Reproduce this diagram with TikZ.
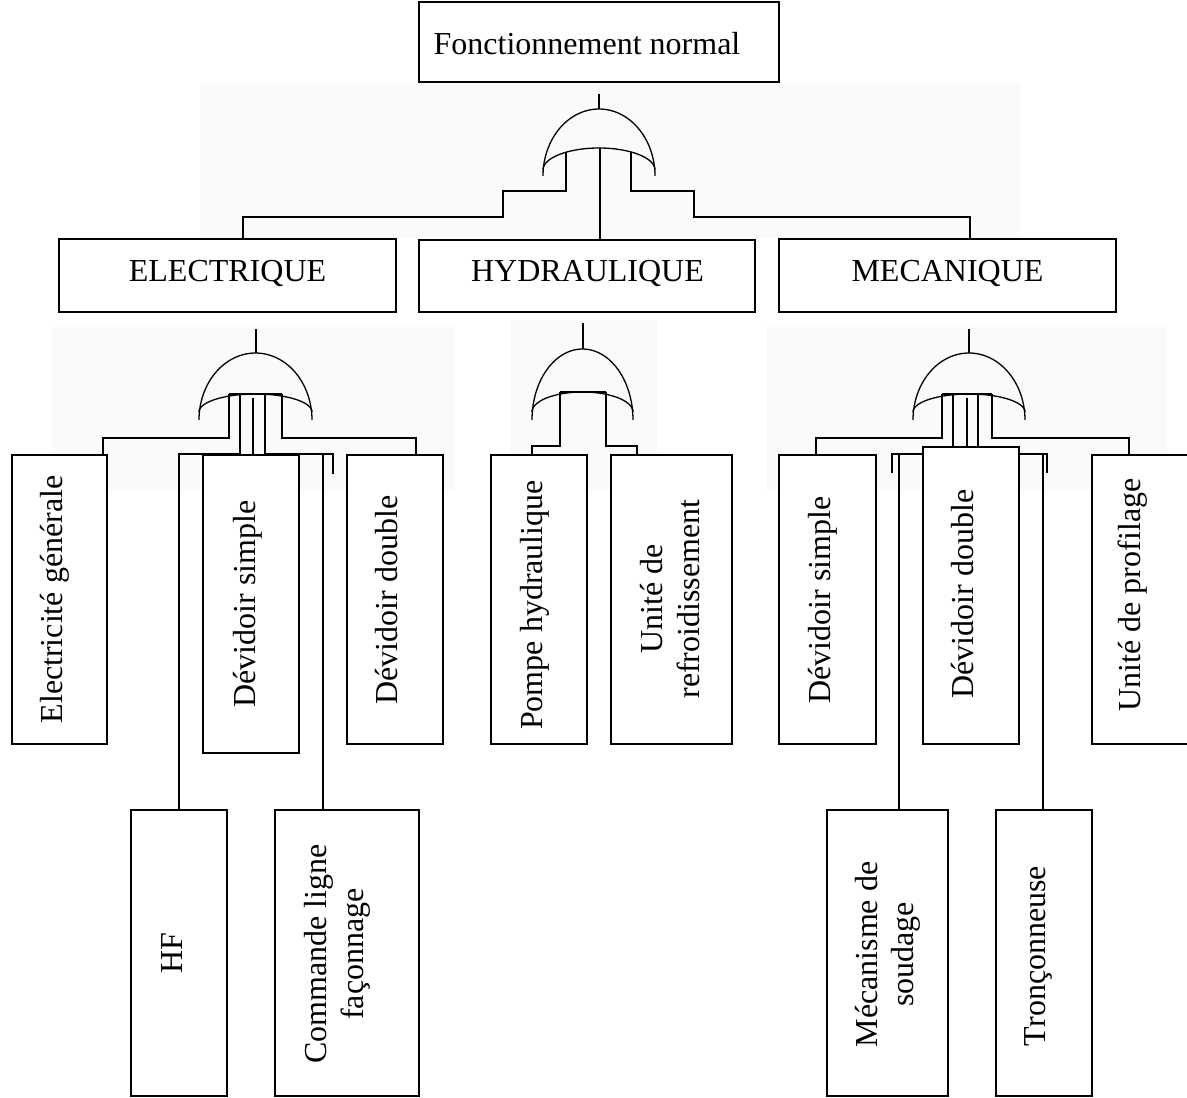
\documentclass[tikz,border=0pt]{standalone}
\usepackage{fontspec}
\setmainfont{Liberation Serif}
% box from corner (x1,y1) to corner (x2,y2)
\newcommand\mkbox[5]{\node[box, minimum width={#4-#2}, minimum height={#5-#3}] (#1) at ({(#2+#4)/2},{(#3+#5)/2}) {};}
% OR gate: name, centre x, rx, outer end y, outer ry, inner end y, inner ry, stem top
\newcommand\orgate[8]{%
  \draw[gatearc] plot[domain=180:360, samples=60, variable=\t] ({#2+#3*cos(\t)},{#4+#5*sin(\t)});
  \draw[gatearc] plot[domain=180:360, samples=60, variable=\t] ({#2+#3*cos(\t)},{#6+#7*sin(\t)});
  \coordinate (#1-out) at (#2,#4-#5);
  \draw[wire] (#1-out) -- (#2,#8);}
\begin{document}
\begin{tikzpicture}[x=1pt,y=-1pt,
  box/.style={draw, line width=2pt, fill=white, inner sep=0pt, outer sep=0pt},
  lbl/.style={font=\fontsize{32}{36.5}\selectfont, inner sep=0pt, align=center},
  vlbl/.style={lbl, rotate=90},
  wire/.style={line width=2pt},
  gatearc/.style={line width=1.3pt},
  haze/.style={fill=black!2, draw=none}]
\useasboundingbox (0,0) rectangle (1187,1098);

% faint panels behind the gates
\fill[haze] (200,83) rectangle (1020,238);
\fill[haze] (52,327) rectangle (455,490);
\fill[haze] (510,320) rectangle (657,490);
\fill[haze] (767,327) rectangle (1167,490);

% ---- boxes ----
\mkbox{top}{419}{1.5}{779}{82}
\mkbox{elec}{59}{239}{396}{312}
\mkbox{hyd}{419}{240}{755}{312}
\mkbox{mec}{779}{239}{1116}{312}

\mkbox{elgen}{12}{455}{107}{744}
\mkbox{devs}{203}{455}{299}{753}
\mkbox{devd}{347}{455}{443}{744}
\mkbox{hf}{131}{810}{227}{1096}
\mkbox{cmd}{275}{810}{419}{1096}

\mkbox{pomp}{491}{455}{587}{744}
\mkbox{refr}{611}{455}{732}{744}

\mkbox{mdevs}{779}{455}{876}{744}
\mkbox{mdevd}{923}{447}{1019}{744}
\mkbox{prof}{1092}{455}{1188}{744}
\mkbox{soud}{827}{810}{948}{1096}
\mkbox{tron}{996}{810}{1092}{1096}

% ---- labels ----
\node[lbl, anchor=base] (t-top) at (587,54) {Fonctionnement normal};
\node[lbl, anchor=base] (t-elec) at (227.5,281) {ELECTRIQUE};
\node[lbl, anchor=base] (t-hyd) at (587.5,281) {HYDRAULIQUE};
\node[lbl, anchor=base] (t-mec) at (947.5,281) {MECANIQUE};

\node[vlbl, anchor=base] (t-elgen) at (62,599.5) {Electricité générale};
\node[vlbl, anchor=base] (t-devs) at (255,604) {Dévidoir simple};
\node[vlbl, anchor=base] (t-devd) at (397,600) {Dévidoir double};
\node[vlbl, anchor=base] (t-hf) at (182,953) {HF};
\node[vlbl, anchor=center] (t-cmd) at (337.5,954) {Commande ligne\\façonnage};
\node[vlbl, anchor=base] (t-pomp) at (542,605) {Pompe hydraulique};
\node[vlbl, anchor=center] (t-refr) at (670,599) {Unité de\\refroidissement};
\node[vlbl, anchor=base] (t-mdevs) at (830,600) {Dévidoir simple};
\node[vlbl, anchor=base] (t-mdevd) at (973,594) {Dévidoir double};
\node[vlbl, anchor=base] (t-prof) at (1140,595) {Unité de profilage};
\node[vlbl, anchor=center] (t-soud) at (888,954.5) {Mécanisme de\\soudage};
\node[vlbl, anchor=base] (t-tron) at (1045,956) {Tronçonneuse};

% ---- gates ----
\orgate{g0}{599}{56}{176}{67}{170}{22}{94}
\orgate{gE}{255.5}{56.5}{420}{67}{412}{18}{329}
\orgate{gH}{582.5}{50.5}{420}{71}{412}{20}{323}
\orgate{gM}{969}{56}{420}{67}{412}{18}{329}

% ---- top level inputs ----
\coordinate (g0a) at (566,152);
\coordinate (g0b) at (600,148);
\coordinate (g0c) at (631,152);
\draw[wire] (g0a) |- (503,191) |- (243,217) -- ([xshift=184pt]elec.north west);
\draw[wire] (g0b) -- ([xshift=181pt]hyd.north west);
\draw[wire] (g0c) |- (694,191) |- (970,217) -- ([xshift=191pt]mec.north west);

% ---- ELECTRIQUE inputs ----
\coordinate (gEa) at (229,394);
\coordinate (gEb) at (240,394);
\coordinate (gEc) at (253,398);
\coordinate (gEd) at (265,394);
\coordinate (gEe) at (282,394);
\draw[wire] (gEa) -- (gEe);
\draw[wire] (gEa) -- (229,438) -| ([xshift=-4pt]elgen.north east);
\draw[wire] (gEb) -- (gEb |- devs.north);
\draw[wire] (gEc) -- (gEc |- devs.north);
\draw[wire] (gEd) -- (gEd |- devs.north);
\draw[wire] (gEe) -- (282,438) -| ([xshift=69pt]devd.north west);
\coordinate (eL) at (240,454);
\coordinate (eR) at (265,454);
\coordinate (eRj) at (323,454);
\draw[wire] (eL) -| (hf.north);
\draw[wire] (eR) -- (333,454) -- (333,474);
\draw[wire] (eRj) -- ([xshift=48pt]cmd.north west);

% ---- HYDRAULIQUE inputs ----
\coordinate (gHa) at (560,392);
\coordinate (gHb) at (606,392);
\draw[wire] (gHa) -- (gHb);
\draw[wire] (gHa) -- (560,446) -| ([xshift=41pt]pomp.north west);
\draw[wire] (gHb) -- (606,446) -| ([xshift=26pt]refr.north west);

% ---- MECANIQUE inputs ----
\coordinate (gMa) at (942,394);
\coordinate (gMb) at (953,394);
\coordinate (gMc) at (967,398);
\coordinate (gMd) at (978,394);
\coordinate (gMe) at (992,394);
\draw[wire] (gMa) -- (gMe);
\draw[wire] (gMa) -- (942,438) -| ([xshift=37pt]mdevs.north west);
\draw[wire] (gMb) -- (gMb |- mdevd.north);
\draw[wire] (gMc) -- (gMc |- mdevd.north);
\draw[wire] (gMd) -- (gMd |- mdevd.north);
\draw[wire] (gMe) -- (992,438) -| ([xshift=37pt]prof.north west);
\coordinate (mL) at (923,454);
\coordinate (mLj) at (899,454);
\coordinate (mR) at (1019,454);
\coordinate (mRj) at (1043,454);
\draw[wire] (mL) -- (892,454) -- (892,473);
\draw[wire] (mLj) -- (mLj |- soud.north);
\draw[wire] (mR) -- (1047,454) -- (1047,473);
\draw[wire] (mRj) -- (mRj |- tron.north);
\end{tikzpicture}
\end{document}
